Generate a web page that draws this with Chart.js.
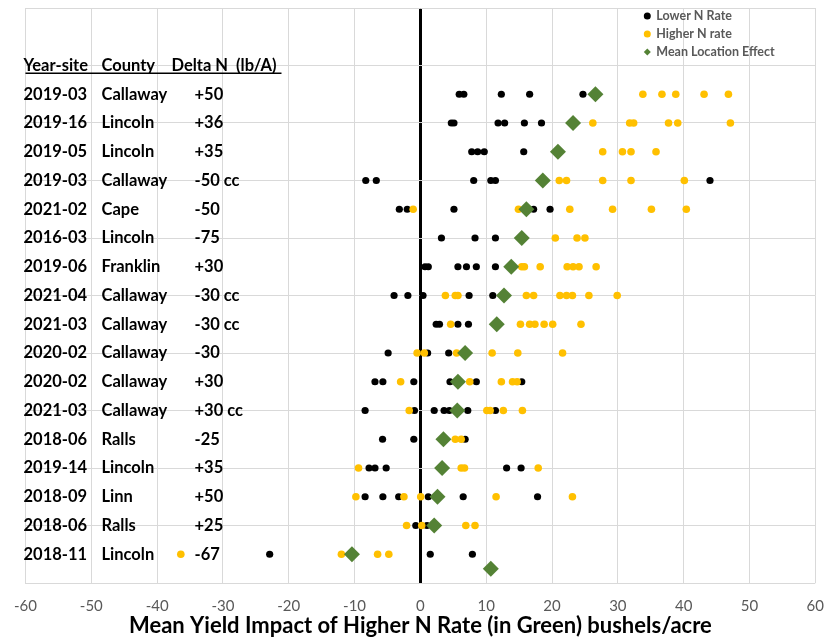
<!DOCTYPE html>
<html>
<head>
<meta charset="utf-8">
<script src="https://cdn.jsdelivr.net/npm/chart.js@4.4.0/dist/chart.umd.min.js"></script>
<style>
  body { margin: 0; background: #fff; }
  #wrap { width: 838px; height: 639px; }
</style>
</head>
<body>
<div id="wrap"><canvas id="myChart" width="838" height="639"></canvas></div>
<script>
'use strict';
// rows top to bottom
let yearSites = ['2019-03', '2019-16', '2019-05', '2019-03', '2021-02', '2016-03', '2019-06', '2021-04', '2021-03', '2020-02', '2020-02', '2021-03', '2018-06', '2019-14', '2018-09', '2018-06', '2018-11']
let counties = ['Callaway', 'Lincoln', 'Lincoln', 'Callaway', 'Cape', 'Lincoln', 'Franklin', 'Callaway', 'Callaway', 'Callaway', 'Callaway', 'Callaway', 'Ralls', 'Lincoln', 'Linn', 'Ralls', 'Lincoln']
let deltaN = ['+50', '+36', '+35', '-50 cc', '-50', '-75', '+30', '-30 cc', '-30 cc', '-30', '+30', '+30 cc', '-25', '+35', '+50', '+25', '-67']
let tableHeader = ['Year-site', 'County', 'Delta N  (lb/A)']

let lowerRate = [
  [5.9, 6.6, 12.3, 16.6, 24.7],
  [4.7, 5.1, 11.8, 12.8, 15.8, 18.4],
  [7.8, 8.7, 9.7, 15.7],
  [-8.3, -6.7, 8.1, 10.7, 11.4, 44.0],
  [-3.2, -2.0, 5.1, 17.2, 19.7],
  [3.2, 8.3, 11.4],
  [0.7, 1.2, 5.7, 7.0, 8.5, 11.4],
  [-4.0, -1.9, 0.4, 7.4, 11.0],
  [2.4, 2.9, 5.7, 7.3],
  [-4.9, 1.1, 4.3],
  [-6.9, -5.7, -1.0, 4.5, 8.5, 15.4],
  [-8.4, -0.9, 2.1, 3.6, 4.4, 7.2, 11.4],
  [-5.75, -1.0, 6.8],
  [-7.8, -6.9, -5.2, 13.1, 15.3],
  [-8.4, -5.7, -3.3, 1.2, 6.5, 17.8],
  [-0.7, 1.0],
  [-22.9, 1.5, 7.9]
]
let higherRate = [
  [33.8, 36.7, 38.8, 43.1, 46.8],
  [26.2, 31.8, 32.4, 37.7, 39.1, 47.1],
  [27.7, 30.7, 32.0, 35.8],
  [21.1, 22.2, 27.7, 32.0, 40.1],
  [-1.1, 14.9, 22.7, 29.2, 35.1, 40.4],
  [20.5, 23.8, 25.0],
  [15.4, 15.8, 18.2, 22.3, 23.2, 24.1, 26.7],
  [3.8, 5.3, 5.7, 16.1, 17.2, 21.2, 22.2, 23.1, 25.6, 29.9],
  [4.6, 15.2, 16.6, 17.4, 18.8, 20.1, 24.4],
  [-0.5, 0.6, 5.5, 10.9, 14.8, 21.6],
  [-3.0, 7.5, 12.3, 14.0, 14.7],
  [-1.7, 10.1, 10.6, 12.6, 15.5],
  [5.3, 6.2],
  [-9.4, 6.2, 6.7, 17.9],
  [-9.8, -2.5, 0.05, 11.5, 23.1],
  [-2.1, 0.2, 6.9, 8.3],
  [-36.4, -12.0, -6.5, -4.8]
]
let meanEffect = [26.6, 23.2, 20.9, 18.6, 16.1, 15.4, 13.8, 12.7, 11.6, 6.8, 5.7, 5.6, 3.5, 3.3, 2.6, 2.1, -10.4]
let overallMean = 10.7
let overallRow = 0.5

let legendNames = ['Lower N Rate', 'Higher N rate', 'Mean Location Effect']
let lowerColor = '#000000'
let higherColor = '#FFC000'
let meanColor = '#548235'

function rowPoints(rows){
  let pts = []
  for(let i = 0; i < rows.length; i++){
    for(let j = 0; j < rows[i].length; j++){
      pts.push({x: rows[i][j], y: yearSites.length - i})
    }
  }
  return pts
}
let meanPoints = meanEffect.map((v, i) => ({x: v, y: yearSites.length - i}))
meanPoints.push({x: overallMean, y: overallRow})

// table of sites on the left + legend top right
const tablePlugin = {
  id: 'siteTable',
  afterDraw(chart){
    const c = chart.ctx
    const ys = chart.scales.y
    const left = chart.chartArea.left - 2
    c.save()
    c.fillStyle = '#000'
    c.textBaseline = 'middle'
    c.font = 'bold 16.5px Lato'
    let hy = ys.getPixelForValue(yearSites.length + 1)
    c.fillText(tableHeader[0], left, hy)
    c.fillText(tableHeader[1], left + 78, hy)
    c.fillText(tableHeader[2], left + 148, hy)
    c.fillRect(left + 2, hy + 7, 256, 1.5)
    for(let i = 0; i < yearSites.length; i++){
      let y = ys.getPixelForValue(yearSites.length - i)
      c.fillText(yearSites[i], left, y)
      c.fillText(counties[i], left + 78, y)
      c.fillText(deltaN[i], left + 171, y)
    }
    // legend
    const colors = [lowerColor, higherColor, meanColor]
    const lx = chart.chartArea.right - 168
    c.font = 'bold 12.5px Lato'
    for(let k = 0; k < legendNames.length; k++){
      let y = 16 + k * 18
      c.fillStyle = colors[k]
      c.beginPath()
      if(k < 2){
        c.arc(lx, y, 3.5, 0, Math.PI * 2)
      } else {
        c.moveTo(lx - 3.5, y); c.lineTo(lx, y - 3.5); c.lineTo(lx + 3.5, y); c.lineTo(lx, y + 3.5)
      }
      c.fill()
      c.fillStyle = '#595959'
      c.fillText(legendNames[k], lx + 9, y)
    }
    c.restore()
  }
}

const ctx = document.getElementById('myChart');
const myChart = new Chart(ctx, {
  type: 'scatter',
  data: {
    datasets: [
      {
        label: legendNames[2],
        data: meanPoints,
        pointStyle: 'rectRot',
        pointRadius: 8,
        backgroundColor: meanColor,
        borderWidth: 0,
        order: 0
      },
      {
        label: legendNames[1],
        data: rowPoints(higherRate),
        pointRadius: 3.8,
        backgroundColor: higherColor,
        borderWidth: 0,
        order: 1
      },
      {
        label: legendNames[0],
        data: rowPoints(lowerRate),
        pointRadius: 3.6,
        backgroundColor: lowerColor,
        borderWidth: 0,
        order: 2
      }
    ]
  },
  options: {
    responsive: false,
    animation: false,
    layout: { padding: { left: 22, right: 22, top: 7, bottom: 0 } },
    plugins: { legend: { display: false }, tooltip: { enabled: false } },
    scales: {
      x: {
        type: 'linear',
        min: -60,
        max: 60,
        ticks: { stepSize: 10, padding: 14, color: '#595959', font: { family: 'Lato', size: 15 } },
        grid: {
          drawTicks: false,
          color: c => (c.tick && c.tick.value === 0) ? '#000' : '#d9d9d9',
          lineWidth: c => (c.tick && c.tick.value === 0) ? 3 : 1
        },
        border: { display: false },
        title: {
          display: true,
          text: 'Mean Yield Impact of Higher N Rate (in Green) bushels/acre',
          color: '#000',
          font: { family: 'Lato', size: 22, weight: 'bold' },
          padding: 0
        },
        afterFit: s => { s.height = 56 }
      },
      y: {
        type: 'linear',
        min: 0,
        max: 20,
        ticks: { display: false, stepSize: 2 },
        grid: { drawTicks: false, color: '#d9d9d9' },
        border: { display: false },
        afterFit: s => { s.width = 0 }
      }
    }
  },
  plugins: [tablePlugin]
})
</script>
</body>
</html>
